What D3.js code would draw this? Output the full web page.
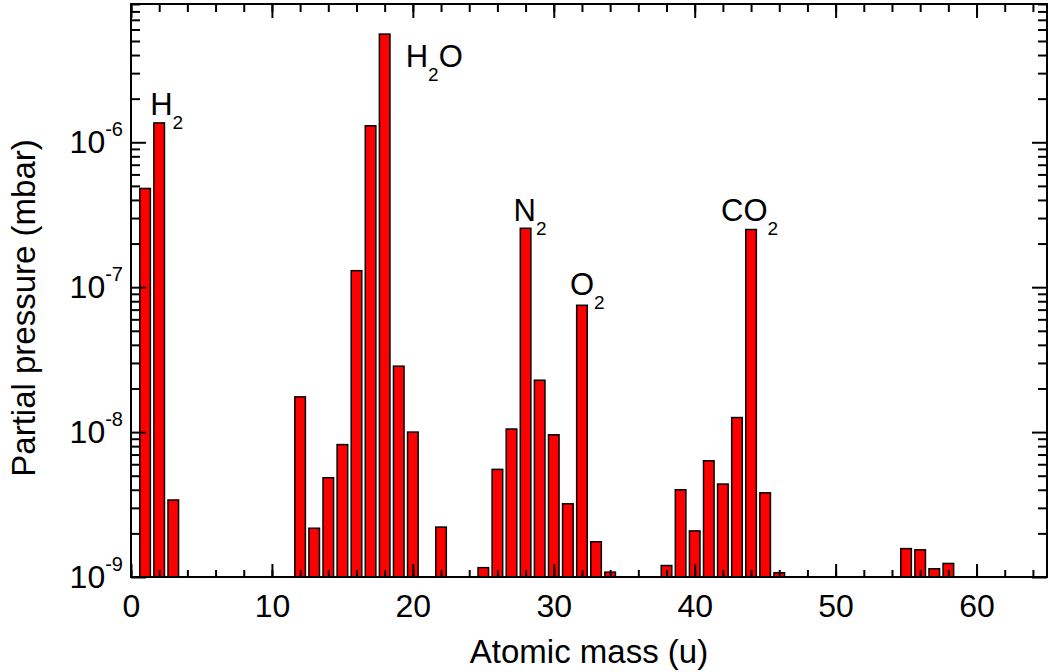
<!DOCTYPE html>
<html>
<head>
<meta charset="utf-8">
<script src="https://cdn.jsdelivr.net/npm/d3@7"></script>
<style>
    body { margin: 0; background: #fff; }
    text { font-family: "Liberation Sans", Arial, Helvetica, sans-serif; fill: #000; }
</style>
</head>
<body>
<div id="chart"></div>
<script>
// mass spectrum
var masses = [1, 2, 3, 12, 13, 14, 15, 16, 17, 18, 19, 20, 22,
    25, 26, 27, 28, 29, 30, 31, 32, 33, 34,
    38, 39, 40, 41, 42, 43, 44, 45, 46,
    55, 56, 57, 58];
var pressures = [4.8e-7, 1.36e-6, 3.4e-9, 1.75e-8, 2.17e-9, 4.84e-9, 8.2e-9, 1.3e-7, 1.3e-6, 5.58e-6, 2.85e-8, 1.0e-8, 2.21e-9,
    1.16e-9, 5.53e-9, 1.05e-8, 2.55e-7, 2.28e-8, 9.58e-9, 3.2e-9, 7.5e-8, 1.75e-9, 1.08e-9,
    1.2e-9, 4.0e-9, 2.08e-9, 6.34e-9, 4.38e-9, 1.26e-8, 2.5e-7, 3.81e-9, 1.07e-9,
    1.57e-9, 1.54e-9, 1.14e-9, 1.24e-9];

var xMajorTicks = [0, 10, 20, 30, 40, 50, 60];
var xMinorTicks = d3.range(0, 66, 2);
var yExponents = [-9, -8, -7, -6];
var yMinorTicks = [];
[-9, -8, -7, -6].forEach(function (e) {
    for (var k = 2; k <= 9; k++) yMinorTicks.push(k * Math.pow(10, e));
});

var peakNames = ['H2', 'H2O', 'N2', 'O2', 'CO2'];
var peakMasses = [2, 18, 28, 32, 44];

var xTitle = 'Atomic mass (u)';
var yTitle = 'Partial pressure (mbar)';

var _w = 1059, _h = 672;
var margin = {left: 131, right: 12, top: 4, bottom: 95};

var svg = d3.select('#chart').append('svg')
    .attr('width', _w).attr('height', _h);

var x = d3.scaleLinear().domain([0, 65]).range([margin.left, _w - margin.right]);
var y = d3.scaleLog().domain([1e-9, 9e-6]).range([_h - margin.bottom, margin.top]);

var x0 = x.range()[0], x1 = x.range()[1];
var yBottom = y.range()[0], yTop = y.range()[1];

// bars
var barW = x(0.75) - x(0);
svg.append('g').attr('class', 'bars')
    .selectAll('rect')
    .data(masses)
    .enter()
    .append('rect')
    .attr('x', function (d) { return x(d) - barW / 2; })
    .attr('y', function (d, i) { return y(pressures[i]); })
    .attr('width', barW)
    .attr('height', function (d, i) { return yBottom - y(pressures[i]); })
    .style('fill', '#ff0000')
    .style('stroke', '#000')
    .style('stroke-width', 1.5);

function cleanAxis(g) {
    g.select('.domain').remove();
    g.selectAll('.tick line').style('stroke', '#000').style('stroke-width', 2);
    g.attr('font-family', null).attr('font-size', null);
}

// x ticks, bottom and top (inward)
svg.append('g').attr('transform', 'translate(0,' + yBottom + ')')
    .call(d3.axisBottom(x).tickValues(xMinorTicks).tickSize(-7).tickFormat(''))
    .call(cleanAxis);
svg.append('g').attr('transform', 'translate(0,' + yBottom + ')')
    .call(d3.axisBottom(x).tickValues(xMajorTicks).tickSize(-13).tickPadding(17).tickFormat(d3.format('d')))
    .call(cleanAxis)
    .selectAll('text').style('font-size', '32px');
svg.append('g').attr('transform', 'translate(0,' + yTop + ')')
    .call(d3.axisTop(x).tickValues(xMinorTicks).tickSize(-8).tickFormat(''))
    .call(cleanAxis);
svg.append('g').attr('transform', 'translate(0,' + yTop + ')')
    .call(d3.axisTop(x).tickValues(xMajorTicks).tickSize(-14).tickFormat(''))
    .call(cleanAxis);

// y ticks, left and right (inward)
svg.append('g').attr('transform', 'translate(' + x0 + ',0)')
    .call(d3.axisLeft(y).tickValues(yMinorTicks).tickSize(-9).tickFormat(''))
    .call(cleanAxis);
var yLeft = svg.append('g').attr('transform', 'translate(' + x0 + ',0)')
    .call(d3.axisLeft(y).tickValues(yExponents.map(function (e) { return Math.pow(10, e); }))
        .tickSize(-15).tickPadding(8).tickFormat(function () { return '10'; }))
    .call(cleanAxis);
yLeft.selectAll('text')
    .style('font-size', '32px')
    .attr('dy', '0.33em')
    .append('tspan')
    .attr('dy', -17)
    .style('font-size', '20px')
    .text(function (d) { return Math.round(Math.log10(d)); });
svg.append('g').attr('transform', 'translate(' + x1 + ',0)')
    .call(d3.axisRight(y).tickValues(yMinorTicks).tickSize(-9).tickFormat(''))
    .call(cleanAxis);
svg.append('g').attr('transform', 'translate(' + x1 + ',0)')
    .call(d3.axisRight(y).tickValues(yExponents.map(function (e) { return Math.pow(10, e); }))
        .tickSize(-15).tickFormat(''))
    .call(cleanAxis);

// frame
svg.append('rect')
    .attr('x', x0).attr('y', yTop)
    .attr('width', x1 - x0).attr('height', yBottom - yTop)
    .style('fill', 'none').style('stroke', '#000').style('stroke-width', 2);

// peak labels with subscripts
var labelOffsets = [[-9, -8], [21, 33], [-12, -7], [-12, -10], [-30, -9]];
peakNames.forEach(function (name, i) {
    var m = peakMasses[i];
    var v = pressures[masses.indexOf(m)];
    var t = svg.append('text')
        .attr('x', x(m) + labelOffsets[i][0])
        .attr('y', y(v) + labelOffsets[i][1])
        .style('font-size', '31px');
    var sub = false;
    name.split(/(\d)/).forEach(function (part) {
        if (part === '') return;
        var isDigit = /\d/.test(part);
        var ts = t.append('tspan').text(part);
        if (isDigit && !sub) {
            ts.attr('dy', 14).style('font-size', '19px');
            sub = true;
        } else if (!isDigit && sub) {
            ts.attr('dy', -14);
            sub = false;
        }
    });
});

// axis titles
svg.append('text')
    .attr('x', (x0 + x1) / 2)
    .attr('y', 663)
    .attr('text-anchor', 'middle')
    .style('font-size', '33px')
    .text(xTitle);
svg.append('text')
    .attr('transform', 'translate(35,308) rotate(-90)')
    .attr('text-anchor', 'middle')
    .style('font-size', '33px')
    .text(yTitle);
</script>
</body>
</html>
